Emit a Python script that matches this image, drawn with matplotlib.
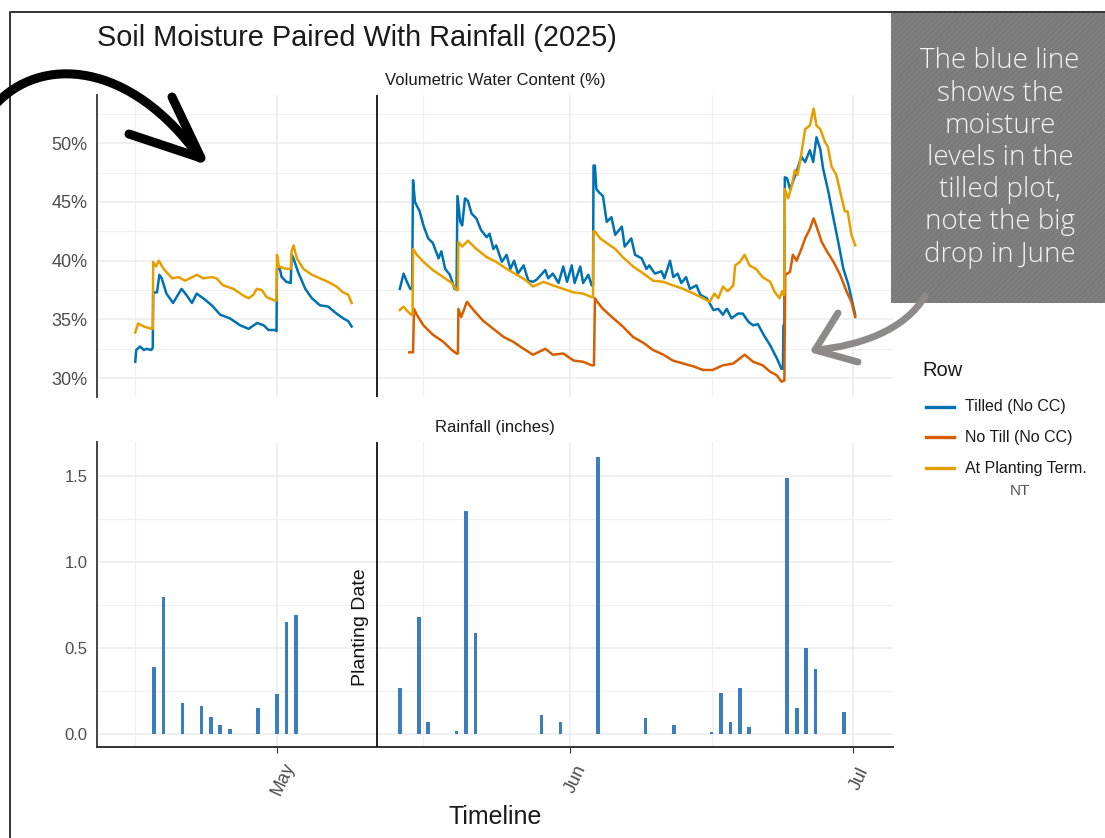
# Soil moisture paired with rainfall (2025) - recreated with matplotlib
import numpy as np
import matplotlib
matplotlib.use("Agg")
import matplotlib.pyplot as plt
import matplotlib.dates as mdates
import matplotlib.transforms as mtransforms
from matplotlib.lines import Line2D
from matplotlib.patches import PathPatch, Rectangle
from matplotlib.path import Path
from matplotlib.ticker import FixedLocator, FuncFormatter

plt.rcParams["font.family"] = ["Liberation Sans", "DejaVu Sans"]

# ----------------------------
# Data (days counted from 2025-05-01)
# ----------------------------
START = np.datetime64("2025-05-01T00:00")
PLANTING_DAY = 10.6

tilled_pre = [
    (-15.0, 31.4), (-14.9, 32.4), (-14.5, 32.7), (-14.1, 32.4), (-13.8, 32.5), (-13.3, 32.4),
    (-13.15, 32.6), (-13.1, 37.3), (-12.7, 37.3), (-12.45, 38.8), (-12.2, 38.5), (-11.7, 37.2),
    (-11.0, 36.4), (-10.1, 37.6), (-9.6, 37.1), (-9.0, 36.4), (-8.5, 37.2), (-7.8, 36.8),
    (-6.9, 36.2), (-6.0, 35.4), (-5.0, 35.1), (-3.9, 34.5), (-3.0, 34.2), (-2.1, 34.7),
    (-1.4, 34.5), (-0.9, 34.1), (-0.2, 34.1), (-0.05, 34.0), (0.0, 39.3), (0.3, 39.3),
    (0.5, 38.6), (1.0, 38.2), (1.45, 38.1), (1.55, 40.5), (1.7, 40.3), (2.25, 39.0),
    (3.0, 37.6), (3.7, 36.8), (4.55, 36.2), (5.4, 36.1), (6.3, 35.5), (7.0, 35.1),
    (7.55, 34.85), (7.9, 34.4),
]
tilled_post = [
    (13.0, 37.6), (13.4, 38.9), (13.7, 38.3), (14.1, 37.6), (14.3, 37.6), (14.4, 46.85),
    (14.6, 45.0), (15.1, 44.2), (15.5, 43.0), (16.0, 41.9), (16.5, 41.5), (17.1, 40.2),
    (17.4, 40.8), (17.8, 39.3), (18.3, 38.8), (18.8, 37.6), (19.0, 37.6), (19.1, 45.5),
    (19.4, 43.3), (19.6, 43.0), (19.9, 45.3), (20.2, 45.1), (20.6, 44.0), (21.1, 43.6),
    (21.6, 42.6), (22.2, 42.0), (22.5, 42.3), (22.9, 41.0), (23.2, 41.3), (23.8, 39.9),
    (24.3, 40.5), (24.7, 39.3), (25.1, 40.0), (25.5, 38.9), (26.1, 39.6), (26.6, 38.3),
    (27.1, 38.2), (27.5, 38.4), (28.4, 39.2), (28.7, 38.5), (29.2, 38.9), (29.8, 38.1),
    (30.3, 39.5), (30.7, 38.2), (31.2, 39.6), (31.5, 38.1), (32.1, 39.5), (32.4, 38.1),
    (32.95, 38.8), (33.3, 37.9), (33.45, 37.9), (33.5, 48.1), (33.65, 48.1), (33.8, 46.1),
    (34.1, 45.8), (34.5, 45.5), (34.9, 43.3), (35.4, 43.7), (35.8, 42.2), (36.5, 42.9),
    (36.8, 41.2), (37.5, 41.9), (37.9, 40.5), (38.6, 40.2), (39.1, 39.3), (39.4, 39.6),
    (40.0, 38.9), (40.7, 39.1), (41.0, 38.5), (41.6, 40.0), (41.95, 38.6), (42.4, 38.9),
    (42.8, 38.1), (43.3, 38.6), (43.7, 37.6), (44.4, 37.9), (44.8, 37.1), (45.5, 36.8),
    (46.2, 35.8), (46.7, 35.9), (47.2, 35.4), (47.6, 35.9), (48.1, 35.1), (48.8, 35.5),
    (49.3, 35.5), (49.9, 34.8), (50.4, 34.5), (50.9, 34.6), (51.5, 33.7), (52.2, 32.8),
    (52.9, 31.7), (53.4, 30.8), (53.55, 30.8), (53.6, 34.5), (53.7, 34.5), (53.75, 47.1),
    (54.0, 47.0), (54.3, 46.1), (54.6, 46.7), (55.0, 47.6), (55.5, 48.85), (55.9, 48.4),
    (56.4, 49.4), (56.75, 48.4), (57.1, 50.5), (57.5, 49.5), (57.8, 47.85), (58.35, 45.9),
    (58.9, 43.6), (59.4, 41.6), (59.95, 39.3), (60.5, 37.9), (60.8, 36.8), (61.2, 35.4),
]
no_till_post = [
    (14.0, 32.2), (14.4, 32.2), (14.5, 35.9), (14.8, 35.4), (15.5, 34.5), (16.5, 33.7),
    (17.6, 33.1), (18.5, 32.4), (19.0, 32.1), (19.15, 32.1), (19.2, 35.9), (19.5, 35.2),
    (20.1, 36.5), (20.8, 35.8), (21.8, 34.9), (22.9, 34.2), (24.0, 33.5), (25.0, 33.1),
    (26.1, 32.5), (27.1, 32.0), (28.4, 32.5), (29.2, 32.0), (30.3, 32.1), (31.4, 31.5),
    (32.4, 31.4), (33.3, 31.1), (33.55, 31.1), (33.65, 36.8), (33.8, 36.6), (34.5, 35.9),
    (35.6, 35.1), (36.6, 34.4), (37.7, 33.5), (38.8, 33.0), (39.8, 32.4), (40.9, 32.0),
    (41.9, 31.5), (43.0, 31.25), (44.1, 31.0), (45.1, 30.7), (46.1, 30.7), (47.2, 31.1),
    (48.3, 31.25), (49.5, 32.0), (50.4, 31.4), (51.4, 31.1), (52.2, 30.55), (52.9, 30.25),
    (53.4, 29.7), (53.7, 29.8), (53.8, 38.8), (54.3, 39.05), (54.6, 40.5), (55.0, 40.0),
    (55.5, 41.0), (55.9, 41.9), (56.4, 42.7), (56.8, 43.6), (57.2, 42.7), (57.65, 41.6),
    (58.2, 40.8), (58.9, 39.9), (59.6, 38.8), (60.3, 37.35), (60.8, 36.5), (61.2, 35.2),
]
at_planting_pre = [
    (-15.0, 33.9), (-14.7, 34.65), (-14.1, 34.4), (-13.3, 34.2), (-13.15, 34.2), (-13.1, 39.9),
    (-12.8, 39.5), (-12.5, 40.0), (-12.0, 39.3), (-11.1, 38.5), (-10.4, 38.6), (-9.75, 38.3),
    (-9.2, 38.5), (-8.5, 38.8), (-7.8, 38.5), (-6.9, 38.6), (-6.4, 38.5), (-5.7, 37.9),
    (-4.6, 37.6), (-3.7, 37.1), (-3.0, 36.8), (-2.5, 37.1), (-2.15, 37.6), (-1.6, 37.5),
    (-1.1, 36.9), (-0.2, 36.6), (-0.05, 36.6), (0.0, 40.5), (0.2, 39.5), (1.0, 39.3),
    (1.45, 39.3), (1.55, 40.8), (1.75, 41.3), (2.1, 40.2), (2.8, 39.3), (3.7, 38.8),
    (4.55, 38.5), (5.4, 38.2), (6.3, 37.8), (7.0, 37.3), (7.55, 37.1), (7.9, 36.4),
]
at_planting_post = [
    (13.0, 35.8), (13.4, 36.1), (13.7, 35.8), (14.2, 35.4), (14.35, 35.4), (14.4, 41.0),
    (14.8, 40.5), (15.5, 39.9), (16.5, 39.2), (17.6, 38.6), (18.5, 38.1), (19.0, 37.5),
    (19.15, 37.5), (19.2, 41.6), (19.6, 41.2), (20.2, 41.7), (21.1, 41.0), (22.2, 40.3),
    (23.2, 39.9), (24.3, 39.3), (25.4, 38.8), (26.4, 38.3), (27.1, 37.8), (28.2, 38.2),
    (29.2, 37.9), (30.3, 37.6), (31.4, 37.3), (32.4, 37.2), (33.3, 36.9), (33.45, 36.9),
    (33.5, 42.5), (33.65, 42.5), (34.2, 41.9), (34.9, 41.5), (35.8, 41.0), (36.6, 40.3),
    (37.7, 39.5), (38.8, 38.9), (39.8, 38.3), (40.9, 38.2), (41.9, 37.9), (43.0, 37.6),
    (44.1, 37.2), (45.1, 36.8), (45.8, 36.5), (46.3, 37.2), (46.7, 36.8), (47.2, 37.8),
    (47.7, 37.4), (48.3, 37.9), (48.5, 39.6), (49.0, 39.9), (49.5, 40.5), (50.0, 39.6),
    (50.7, 39.3), (51.4, 38.6), (52.2, 38.2), (52.7, 37.3), (53.2, 36.8), (53.45, 37.4),
    (53.6, 37.1), (53.7, 37.1), (53.75, 46.1), (54.1, 45.3), (54.5, 46.4), (54.8, 47.7),
    (55.1, 47.3), (55.5, 49.1), (55.9, 51.2), (56.4, 51.5), (56.8, 52.95), (57.1, 51.5),
    (57.5, 51.2), (58.0, 50.1), (58.3, 49.7), (58.7, 48.0), (59.2, 47.3), (59.6, 45.9),
    (60.1, 44.2), (60.4, 44.2), (60.8, 42.2), (61.2, 41.3),
]

rain_day = [-13, -12, -10, -8, -7, -6, -5, -2, 0, 1, 2,
            13, 15, 16, 19, 20, 21, 28, 30, 34, 39, 42, 46, 47, 48, 49, 50,
            54, 55, 56, 57, 60]
rain_in = [0.39, 0.80, 0.18, 0.16, 0.10, 0.05, 0.03, 0.15, 0.23, 0.65, 0.69,
           0.27, 0.68, 0.07, 0.015, 1.30, 0.59, 0.11, 0.07, 1.61, 0.09, 0.05, 0.01, 0.24, 0.07, 0.27, 0.04,
           1.49, 0.15, 0.50, 0.38, 0.13]

series_labels = ["Tilled (No CC)", "No Till (No CC)", "At Planting Term."]
series_colors = ["#0072B2", "#D55E00", "#E69F00"]
month_ticks = ["2025-05-01", "2025-06-01", "2025-07-01"]
month_labels = ["May", "Jun", "Jul"]
note_text = "The blue line\nshows the\nmoisture\nlevels in the\ntilled plot,\nnote the big\ndrop in June"


def to_dates(days):
    return START + np.round(np.asarray(days, dtype=float) * 1440).astype("timedelta64[m]")


def split(pairs):
    arr = np.array(pairs)
    return to_dates(arr[:, 0]), arr[:, 1]


# ----------------------------
# Layout helpers (pixel -> figure fraction)
# ----------------------------
W, H = 1105, 838
fig = plt.figure(figsize=(W / 100, H / 100), dpi=100)


def fx(px):
    return px / W


def fy(py):
    return 1 - py / H


ax1 = fig.add_axes([fx(97), fy(397), fx(893) - fx(97), fy(95) - fy(397)])
ax2 = fig.add_axes([fx(97), fy(747), fx(893) - fx(97), fy(442) - fy(747)])

xmin = mdates.date2num(to_dates([-19.05])[0])
xmax = mdates.date2num(to_dates([65.2])[0])
major_x = [mdates.date2num(np.datetime64(d)) for d in month_ticks]
minor_x = [mdates.date2num(d) for d in to_dates([-15, 15.5, 46])]
planting = to_dates([PLANTING_DAY])[0]

for ax in (ax1, ax2):
    ax.set_xlim(xmin, xmax)
    ax.xaxis.set_major_locator(FixedLocator(major_x))
    ax.xaxis.set_minor_locator(FixedLocator(minor_x))
    ax.grid(True, which="major", color="#ebebeb", lw=1.1)
    ax.grid(True, which="minor", color="#f0f0f0", lw=0.9)
    ax.set_axisbelow(True)
    for s in ("top", "right", "bottom"):
        ax.spines[s].set_visible(False)
    ax.spines["left"].set_color("#444444")
    ax.spines["left"].set_linewidth(1.4)
    ax.tick_params(axis="y", which="both", length=0, labelcolor="#4d4d4d", pad=7)
    ax.axvline(planting, color="#111111", lw=1.3, zorder=3)

# --- top: volumetric water content
ax1.set_ylim(28.4, 54.1)
ax1.yaxis.set_major_locator(FixedLocator([30, 35, 40, 45, 50]))
ax1.yaxis.set_minor_locator(FixedLocator([32.5, 37.5, 42.5, 47.5, 52.5]))
ax1.yaxis.set_major_formatter(FuncFormatter(lambda v, _: f"{v:.0f}%"))
ax1.tick_params(axis="y", labelsize=13)
ax1.tick_params(axis="x", which="both", length=0, labelbottom=False)

for pairs in (tilled_pre, tilled_post):
    d, v = split(pairs)
    ax1.plot(d, v, color=series_colors[0], lw=1.8, zorder=4)
for pairs in (at_planting_pre, at_planting_post):
    d, v = split(pairs)
    ax1.plot(d, v, color=series_colors[2], lw=1.8, zorder=5)
d, v = split(no_till_post)
ax1.plot(d, v, color=series_colors[1], lw=1.8, zorder=4)

ax1.set_title("Volumetric Water Content (%)", fontsize=12, color="#1a1a1a", pad=7)

# --- bottom: rainfall
ax2.bar(to_dates(rain_day), rain_in, width=0.4, color="#3b7dbd", zorder=4)
ax2.set_ylim(-0.076, 1.70)
ax2.yaxis.set_major_locator(FixedLocator([0.0, 0.5, 1.0, 1.5]))
ax2.yaxis.set_minor_locator(FixedLocator([0.25, 0.75, 1.25]))
ax2.yaxis.set_major_formatter(FuncFormatter(lambda v, _: f"{v:.1f}"))
ax2.tick_params(axis="y", labelsize=12)
ax2.spines["bottom"].set_visible(True)
ax2.spines["bottom"].set_color("#333333")
ax2.spines["bottom"].set_linewidth(1.4)
ax2.set_xticklabels(month_labels)
ax2.tick_params(axis="x", which="major", length=4, color="#333333", labelsize=13,
                labelcolor="#4d4d4d", pad=19)
ax2.tick_params(axis="x", which="minor", length=0)
shift = mtransforms.ScaledTranslation(6 / 100, 0, fig.dpi_scale_trans)
for lab in ax2.get_xticklabels():
    lab.set_rotation(65)
    lab.set_ha("center")
    lab.set_va("center")
    lab.set_rotation_mode("anchor")
    lab.set_transform(lab.get_transform() + shift)
ax2.set_title("Rainfall (inches)", fontsize=12, color="#1a1a1a", pad=7)
ax2.text(to_dates([8.8])[0], 0.62, "Planting Date", rotation=90, ha="center", va="center",
         fontsize=14, color="#111111", zorder=5)

# --- figure texts
fig.text(fx(97), fy(38), "Soil Moisture Paired With Rainfall (2025)", fontsize=20.8,
         ha="left", va="center", color="#1a1a1a")
fig.text(fx(495), fy(817), "Timeline", fontsize=18, ha="center", va="center", color="#1a1a1a")

# legend drawn by hand to match spacing
fig.text(fx(922), fy(371), "Row", fontsize=14.5, ha="left", va="center", color="#1a1a1a")
for lab, col, yy in zip(series_labels, series_colors, [407, 437, 468]):
    fig.add_artist(Line2D([fx(926), fx(954)], [fy(yy), fy(yy)], color=col, lw=2.4,
                          transform=fig.transFigure))
    fig.text(fx(965), fy(yy), lab, fontsize=11.5, ha="left", va="center", color="#1a1a1a")
fig.text(fx(1020), fy(491), "NT", fontsize=11, ha="center", va="center", color="#555555")

# outer frame of the screenshot
fig.add_artist(Line2D([fx(10), fx(10), fx(1105)], [fy(838), fy(12), fy(12)], color="#333333",
                      lw=1.4, transform=fig.transFigure, zorder=1))

# note box
plt.rcParams["hatch.linewidth"] = 0.6
fig.add_artist(Rectangle((fx(891), fy(303)), fx(1105) - fx(891), fy(13) - fy(303),
                         facecolor="#7a7a7a", edgecolor="#858585", hatch="//////", lw=0,
                         transform=fig.transFigure, zorder=8))
fig.text(fx(1000), fy(158), note_text, fontsize=20, ha="center", va="center", color="#f4f4f4",
         family=["Open Sans", "DejaVu Sans"], fontweight="light", linespacing=1.2, zorder=9)


def fig_path(pts):
    verts = [(fx(x), fy(y)) for x, y in pts]
    codes = [Path.MOVETO] + [Path.CURVE4] * (len(verts) - 1)
    return Path(verts, codes)


def polyline(pts, color, lw):
    fig.add_artist(Line2D([fx(x) for x, _ in pts], [fy(y) for _, y in pts], color=color, lw=lw,
                          solid_capstyle="round", solid_joinstyle="round",
                          transform=fig.transFigure, zorder=10))


# black hand drawn arrow
fig.add_artist(PathPatch(fig_path([(-5, 105), (40, 55), (130, 60), (200, 158)]), fill=False,
                         edgecolor="black", lw=6.5, capstyle="round", transform=fig.transFigure,
                         zorder=10))
polyline([(172, 97), (201, 158), (129, 134)], "black", 6.5)

# gray hand drawn arrow
gray = "#8e8a8a"
fig.add_artist(PathPatch(fig_path([(925, 296), (905, 330), (860, 346), (815, 350)]), fill=False,
                         edgecolor=gray, lw=5, capstyle="round", transform=fig.transFigure,
                         zorder=10))
polyline([(838, 313), (815, 350), (858, 362)], gray, 5)

fig.savefig("out.png", dpi=100, facecolor="white")
